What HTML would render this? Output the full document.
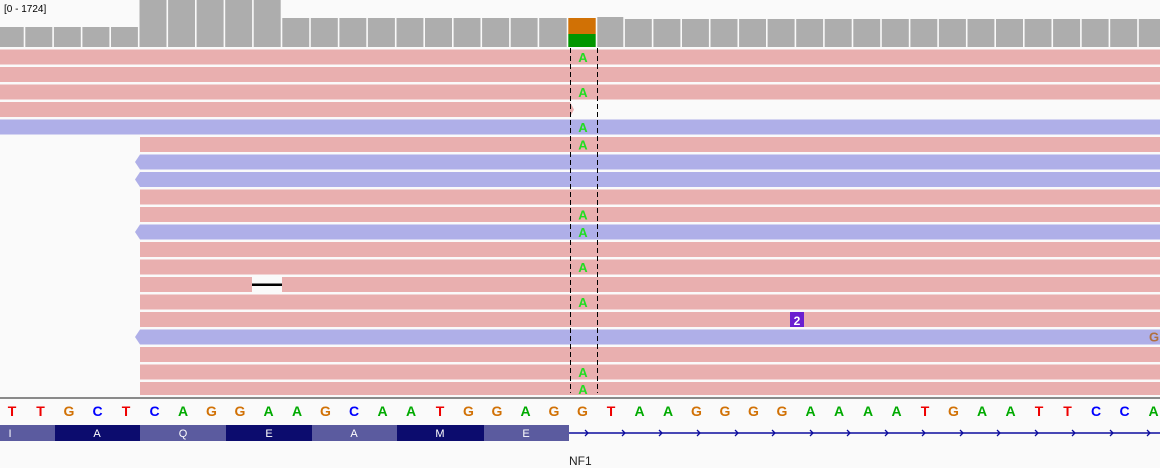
<!DOCTYPE html>
<html><head><meta charset="utf-8"><style>
html,body{margin:0;padding:0;background:#fafafa;}
svg{display:block;font-family:"Liberation Sans",sans-serif;}
</style></head><body>
<svg width="1160" height="468" viewBox="0 0 1160 468" xmlns="http://www.w3.org/2000/svg">
<rect width="1160" height="468" fill="#fafafa"/>
<!-- coverage -->
<g fill="#adadad">
<rect x="0" y="27" width="139" height="20"/>
<rect x="139" y="0" width="143" height="47"/>
<rect x="282" y="18" width="286" height="29"/>
<rect x="596" y="17" width="28" height="30"/>
<rect x="624" y="19" width="536" height="28"/>
</g>
<rect x="568" y="18" width="28" height="16" fill="#d17105"/>
<rect x="568" y="34" width="28" height="13" fill="#009600"/>
<g stroke="#fafafa" stroke-width="1.6">
<path d="M24.5 0V47M53.1 0V47M81.6 0V47M110.2 0V47M138.7 0V47M167.3 0V47M195.8 0V47M224.4 0V47M252.9 0V47M281.5 0V47M310 0V47M338.6 0V47M367.1 0V47M395.7 0V47M424.2 0V47M452.8 0V47M481.3 0V47M509.9 0V47M538.4 0V47M567.5 0V47M596.5 0V47M624.1 0V47M652.6 0V47M681.2 0V47M709.7 0V47M738.3 0V47M766.8 0V47M795.4 0V47M823.9 0V47M852.5 0V47M881 0V47M909.6 0V47M938.1 0V47M966.7 0V47M995.2 0V47M1023.8 0V47M1052.3 0V47M1080.9 0V47M1109.4 0V47M1138 0V47"/>
</g>
<rect x="0" y="0" width="138" height="26" fill="#fafafa"/>
<text x="4" y="12" font-size="10" fill="#000">[0 - 1724]</text>
<!-- reads -->
<g>
<rect x="0" y="49.5" width="1160" height="15" fill="#e9afaf"/>
<rect x="0" y="67" width="1160" height="15" fill="#e9afaf"/>
<rect x="0" y="84.5" width="1160" height="15" fill="#e9afaf"/>
<rect x="0" y="102" width="570" height="15" fill="#e9afaf"/><path d="M570 102L574 109.5L570 117Z" fill="#e9afaf"/>
<rect x="0" y="119.5" width="1160" height="15" fill="#afafe8"/>
<rect x="140" y="137" width="1020" height="15" fill="#e9afaf"/>
<rect x="140" y="154.5" width="1020" height="15" fill="#afafe8"/><path d="M140 154.5L135 162L140 169.5Z" fill="#afafe8"/>
<rect x="140" y="172" width="1020" height="15" fill="#afafe8"/><path d="M140 172L135 179.5L140 187Z" fill="#afafe8"/>
<rect x="140" y="189.5" width="1020" height="15" fill="#e9afaf"/>
<rect x="140" y="207" width="1020" height="15" fill="#e9afaf"/>
<rect x="140" y="224.5" width="1020" height="15" fill="#afafe8"/><path d="M140 224.5L135 232L140 239.5Z" fill="#afafe8"/>
<rect x="140" y="242" width="1020" height="15" fill="#e9afaf"/>
<rect x="140" y="259.5" width="1020" height="15" fill="#e9afaf"/>
<rect x="140" y="277" width="1020" height="15" fill="#e9afaf"/>
<rect x="252" y="277" width="30" height="15" fill="#fafafa"/><rect x="252" y="283.5" width="30" height="2.5" fill="#000"/>
<rect x="140" y="294.5" width="1020" height="15" fill="#e9afaf"/>
<rect x="140" y="312" width="1020" height="15" fill="#e9afaf"/>
<rect x="140" y="329.5" width="1020" height="15" fill="#afafe8"/><path d="M140 329.5L135 337L140 344.5Z" fill="#afafe8"/>
<rect x="140" y="347" width="1020" height="15" fill="#e9afaf"/>
<rect x="140" y="364.5" width="1020" height="15" fill="#e9afaf"/>
<rect x="140" y="382" width="1020" height="13" fill="#e9afaf"/>
</g>
<rect x="790" y="312" width="14" height="15" fill="#6a1fd0"/>
<text x="797" y="325" font-size="12" font-weight="bold" fill="#fff" text-anchor="middle">2</text>
<text x="1154" y="341.5" font-size="13" font-weight="bold" fill="#b07040" text-anchor="middle">G</text>
<g font-size="13" font-weight="bold" fill="#22dd22" text-anchor="middle">
<text x="583" y="62">A</text><text x="583" y="97">A</text><text x="583" y="132">A</text>
<text x="583" y="149.5">A</text><text x="583" y="219.5">A</text><text x="583" y="237">A</text>
<text x="583" y="272">A</text><text x="583" y="307">A</text><text x="583" y="377">A</text>
<text x="583" y="394">A</text>
</g>
<g stroke="#000" stroke-width="1" stroke-dasharray="5,3">
<path d="M570.5 48V393M597.5 48V393"/>
</g>
<rect x="0" y="397" width="1160" height="2" fill="#8a8a8a"/>
<!-- sequence -->
<g font-size="14" font-weight="bold" text-anchor="middle">
<text x="12" y="416" fill="#e00">T</text><text x="40.5" y="416" fill="#e00">T</text><text x="69" y="416" fill="#d17105">G</text><text x="97.5" y="416" fill="#00f">C</text><text x="126" y="416" fill="#e00">T</text>
<text x="154.5" y="416" fill="#00f">C</text><text x="183" y="416" fill="#0a0">A</text><text x="211.5" y="416" fill="#d17105">G</text><text x="240" y="416" fill="#d17105">G</text><text x="268.5" y="416" fill="#0a0">A</text>
<text x="297" y="416" fill="#0a0">A</text><text x="325.5" y="416" fill="#d17105">G</text><text x="354" y="416" fill="#00f">C</text><text x="382.5" y="416" fill="#0a0">A</text><text x="411" y="416" fill="#0a0">A</text>
<text x="440" y="416" fill="#e00">T</text><text x="468.5" y="416" fill="#d17105">G</text><text x="497" y="416" fill="#d17105">G</text><text x="525.5" y="416" fill="#0a0">A</text><text x="554" y="416" fill="#d17105">G</text>
<text x="582.5" y="416" fill="#d17105">G</text>
<text x="611" y="416" fill="#e00">T</text><text x="639.5" y="416" fill="#0a0">A</text><text x="668" y="416" fill="#0a0">A</text><text x="696.5" y="416" fill="#d17105">G</text><text x="725" y="416" fill="#d17105">G</text>
<text x="753.5" y="416" fill="#d17105">G</text><text x="782" y="416" fill="#d17105">G</text><text x="810.5" y="416" fill="#0a0">A</text><text x="839" y="416" fill="#0a0">A</text><text x="868" y="416" fill="#0a0">A</text>
<text x="896.5" y="416" fill="#0a0">A</text><text x="925" y="416" fill="#e00">T</text><text x="953.5" y="416" fill="#d17105">G</text><text x="982" y="416" fill="#0a0">A</text><text x="1010.5" y="416" fill="#0a0">A</text>
<text x="1039" y="416" fill="#e00">T</text><text x="1067.5" y="416" fill="#e00">T</text><text x="1096" y="416" fill="#00f">C</text><text x="1124.5" y="416" fill="#00f">C</text><text x="1153.5" y="416" fill="#0a0">A</text>
</g>
<!-- gene -->
<rect x="0" y="425" width="55" height="16" fill="#5b5b9f"/>
<rect x="55" y="425" width="85" height="16" fill="#0c0c6e"/>
<rect x="140" y="425" width="86" height="16" fill="#5b5b9f"/>
<rect x="226" y="425" width="86" height="16" fill="#0c0c6e"/>
<rect x="312" y="425" width="85" height="16" fill="#5b5b9f"/>
<rect x="397" y="425" width="87" height="16" fill="#0c0c6e"/>
<rect x="484" y="425" width="85" height="16" fill="#5b5b9f"/>
<g font-size="11" fill="#fff" text-anchor="middle">
<text x="10" y="437">I</text><text x="97" y="437">A</text><text x="183" y="437">Q</text><text x="269" y="437">E</text><text x="354" y="437">A</text><text x="440" y="437">M</text><text x="526" y="437">E</text>
</g>
<path d="M569 433H1160" stroke="#0c0c9e" stroke-width="1.5"/>
<g stroke="#0c0c9e" stroke-width="1.3" fill="none">
<path d="M585 430l3 3l-3 3M622 430l3 3l-3 3M659 430l3 3l-3 3M697 430l3 3l-3 3M735 430l3 3l-3 3M772 430l3 3l-3 3M810 430l3 3l-3 3M847 430l3 3l-3 3M885 430l3 3l-3 3M922 430l3 3l-3 3M960 430l3 3l-3 3M997 430l3 3l-3 3M1035 430l3 3l-3 3M1072 430l3 3l-3 3M1110 430l3 3l-3 3M1147 430l3 3l-3 3"/>
</g>
<text x="569" y="465" font-size="12" fill="#222">NF1</text>
</svg>
</body></html>
